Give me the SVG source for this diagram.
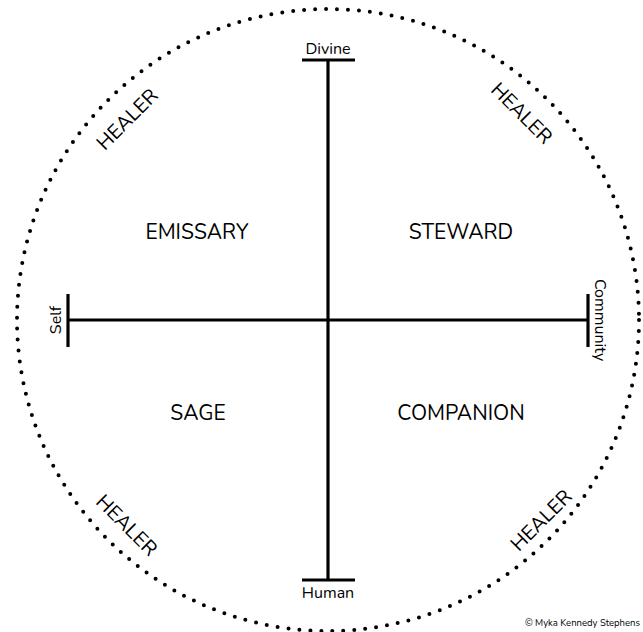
<svg xmlns="http://www.w3.org/2000/svg" width="643" height="632" viewBox="0 0 643 632">
<style>
.ax{stroke:#000;stroke-width:3.2;fill:none}
.q{font-family:"Nunito","Open Sans","Liberation Sans",sans-serif;font-size:21px;fill:#000;text-anchor:middle}
.h{font-family:"Nunito","Open Sans","Liberation Sans",sans-serif;font-size:20px;fill:#000;text-anchor:middle}
.p{font-family:"Nunito","Open Sans","Liberation Sans",sans-serif;font-size:16px;fill:#000;text-anchor:middle}
</style>
<rect width="643" height="632" fill="#fff"/>
<circle cx="328" cy="320" r="311" fill="none" stroke="#000" stroke-width="4" stroke-linecap="round" stroke-dasharray="0 11"/>
<g id="connectors">
<line class="ax" x1="328" y1="60" x2="328" y2="580"/>
<line class="ax" x1="302" y1="60" x2="355" y2="60"/>
<line class="ax" x1="302" y1="580" x2="355" y2="580"/>
<line class="ax" x1="68" y1="320" x2="588" y2="320"/>
<line class="ax" x1="68" y1="294" x2="68" y2="347"/>
<line class="ax" x1="588" y1="294" x2="588" y2="347"/>
</g>
<g id="divine"><text class="p" x="328" y="54">Divine</text></g>
<g id="human"><text class="p" x="328" y="598">Human</text></g>
<g id="self"><text class="p" transform="translate(61,320) rotate(-90)">Self</text></g>
<g id="community"><text class="p" transform="translate(595,320) rotate(90)">Community</text></g>
<g id="emissary"><text class="q" x="197" y="239">EMISSARY</text></g>
<g id="steward"><text class="q" x="461" y="239">STEWARD</text></g>
<g id="sage"><text class="q" x="198" y="420">SAGE</text></g>
<g id="companion"><text class="q" x="461" y="420">COMPANION</text></g>
<g id="healer-tl"><text class="h" transform="translate(132,124) rotate(-45)">HEALER</text></g>
<g id="healer-tr"><text class="h" transform="translate(517,118) rotate(45)">HEALER</text></g>
<g id="healer-bl"><text class="h" transform="translate(122,530) rotate(45)">HEALER</text></g>
<g id="healer-br"><text class="h" transform="translate(546,525) rotate(-45)">HEALER</text></g>
<text x="640" y="626" font-family="Nunito,'Open Sans','Liberation Sans',sans-serif" font-size="9.5" text-anchor="end">© Myka Kennedy Stephens</text>
</svg>
